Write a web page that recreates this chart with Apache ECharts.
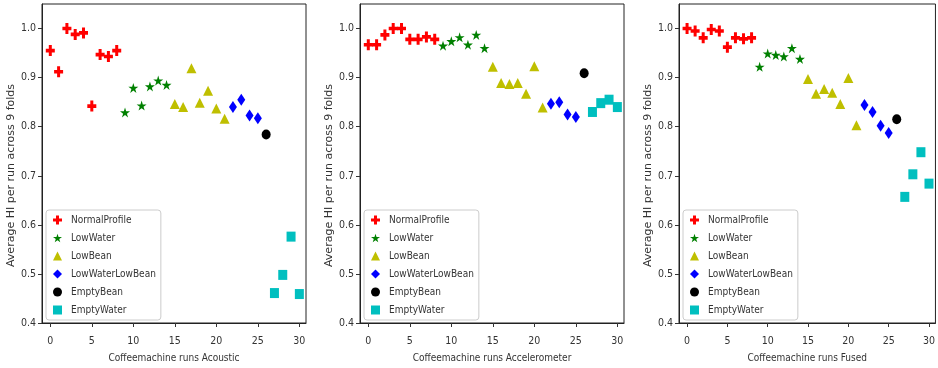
<!DOCTYPE html>
<html>
<head>
<meta charset="utf-8">
<script src="https://cdn.jsdelivr.net/npm/echarts@6/dist/echarts.min.js"></script>
<style>
  html, body { margin: 0; padding: 0; background: #fff; }
  #chart { width: 938px; height: 368px; }
</style>
</head>
<body>
<div id="chart"></div>
<script>
// runs 0..30, each run belongs to one profile
var runs = [0, 1, 2, 3, 4, 5, 6, 7, 8, 9, 10, 11, 12, 13, 14, 15, 16, 17, 18, 19, 20, 21, 22, 23, 24, 25, 26, 27, 28, 29, 30];
var profiles = ['NormalProfile', 'LowWater', 'LowBean', 'LowWaterLowBean', 'EmptyBean', 'EmptyWater'];
var profileRuns = [[0, 8], [9, 14], [15, 21], [22, 25], [26, 26], [27, 30]];

var acoustic = [0.955, 0.912, 1.0, 0.988, 0.991, 0.842, 0.947, 0.943, 0.955,
    0.829, 0.879, 0.843, 0.882, 0.894, 0.885,
    0.846, 0.840, 0.919, 0.849, 0.873, 0.837, 0.816,
    0.840, 0.855, 0.823, 0.817,
    0.784,
    0.461, 0.498, 0.576, 0.459];
var accelerometer = [0.967, 0.967, 0.987, 1.0, 1.0, 0.978, 0.978, 0.983, 0.978,
    0.965, 0.974, 0.982, 0.967, 0.987, 0.960,
    0.922, 0.889, 0.887, 0.889, 0.867, 0.923, 0.839,
    0.847, 0.850, 0.825, 0.820,
    0.909,
    0.830, 0.848, 0.855, 0.840];
var fused = [1.0, 0.995, 0.981, 0.998, 0.995, 0.962, 0.981, 0.979, 0.981,
    0.922, 0.949, 0.946, 0.943, 0.960, 0.938,
    0.897, 0.867, 0.877, 0.869, 0.846, 0.899, 0.803,
    0.844, 0.830, 0.802, 0.787,
    0.815,
    0.657, 0.703, 0.748, 0.684];

var xTicks = [0, 5, 10, 15, 20, 25, 30];
var yTicks = [0.4, 0.5, 0.6, 0.7, 0.8, 0.9, 1.0];
var panelNames = ['Coffeemachine runs Acoustic', 'Coffeemachine runs Accelerometer', 'Coffeemachine runs Fused'];
var panelData = [acoustic, accelerometer, fused];

var colors = ['#ff0000', '#008000', '#bfbf00', '#0000ff', '#000000', '#00bfbf'];
var starPath = 'path://M100,0 L122.45,69.1 L195.1,69.1 L136.3,111.8 L158.8,180.9 L100,138.2 L41.2,180.9 L63.7,111.8 L4.9,69.1 L77.55,69.1 Z';
var plusPath = 'path://M3,0 H6 V3 H9 V6 H6 V9 H3 V6 H0 V3 H3 Z';
var symbols = [plusPath, starPath, 'triangle', 'diamond', 'circle', 'rect'];
var sizes = [[9, 11], [10, 10], [10, 10], [8, 12], [9, 10], [9, 10]];

var lefts = [42, 360, 679];
var narrow = "'DejaVu Sans Condensed', 'Roboto Condensed', Roboto, sans-serif";

var grids = [], xAxes = [], yAxes = [], legends = [], series = [];
for (var p = 0; p < 3; p++) {
    grids.push({
        left: lefts[p], top: 4, width: 264, height: 322,
        show: true, borderColor: '#222', borderWidth: 1
    });
    xAxes.push({
        gridIndex: p, type: 'value', min: -1, max: 30.8,
        name: panelNames[p], nameLocation: 'middle', nameGap: 30,
        nameTextStyle: { fontFamily: narrow, fontSize: 10, color: '#333' },
        splitLine: { show: false },
        axisLine: { onZero: false, lineStyle: { color: '#222' } },
        axisTick: { customValues: xTicks, length: 4, lineStyle: { color: '#333' } },
        axisLabel: { customValues: xTicks, fontFamily: narrow, fontSize: 10.5, color: '#333', margin: 13 }
    });
    yAxes.push({
        gridIndex: p, type: 'value', min: 0.4, max: 1.05,
        name: 'Average HI per run across 9 folds', nameLocation: 'middle', nameGap: 15,
        nameTextStyle: { fontFamily: 'DejaVu Sans', fontSize: 11, color: '#333', padding: [0, 24, 0, 0] },
        splitLine: { show: false },
        axisLine: { show: true, onZero: false, lineStyle: { color: '#222' } },
        axisTick: { show: true, customValues: yTicks, length: 4, lineStyle: { color: '#333' } },
        axisLabel: {
            customValues: yTicks, fontFamily: narrow, fontSize: 10.5, color: '#333', margin: 6,
            formatter: function (v) { return v.toFixed(1); }
        }
    });
    legends.push({
        orient: 'vertical', left: lefts[p] + 4, top: 210,
        data: profiles,
        backgroundColor: '#fff', borderColor: '#ccc', borderWidth: 1, borderRadius: 3,
        padding: [5, 5, 5, 7], itemGap: 8, itemWidth: 9, itemHeight: 9,
        textStyle: { fontFamily: narrow, fontSize: 10, color: '#333', padding: [0, 0, 0, 4] }
    });
    for (var k = 0; k < profiles.length; k++) {
        var pts = [];
        for (var i = profileRuns[k][0]; i <= profileRuns[k][1]; i++) {
            pts.push([runs[i], panelData[p][i]]);
        }
        series.push({
            name: profiles[k], type: 'scatter',
            xAxisIndex: p, yAxisIndex: p,
            symbol: symbols[k], symbolSize: sizes[k],
            itemStyle: { color: colors[k], opacity: 1 },
            data: pts
        });
    }
}

var mychart = echarts.init(document.getElementById('chart'));
mychart.setOption({
    animation: false,
    grid: grids,
    xAxis: xAxes,
    yAxis: yAxes,
    legend: legends,
    series: series
});
</script>
</body>
</html>
